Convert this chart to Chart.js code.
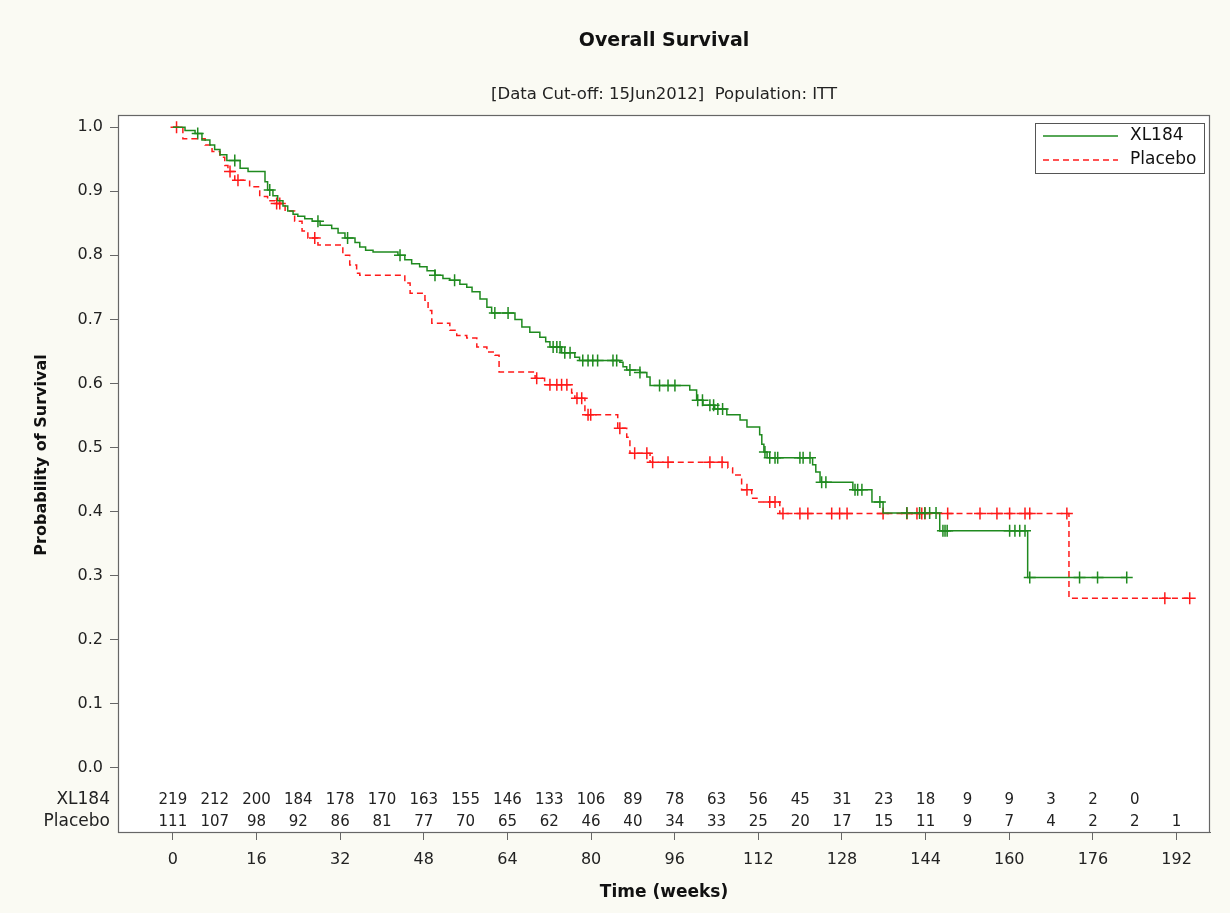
<!DOCTYPE html>
<html>
<head>
<meta charset="utf-8">
<script src="https://cdn.jsdelivr.net/npm/chart.js@4.4.1/dist/chart.umd.min.js"></script>
<style>
  html, body { margin: 0; padding: 0; background: #fafaf3; }
  #wrap { width: 1230px; height: 913px; }
</style>
</head>
<body>
<div id="wrap"><canvas id="km" width="1230" height="913"></canvas></div>
<script>
// Kaplan-Meier steps (weeks, survival probability)
const xlTimes = [0, 2.32, 4.24, 5.56, 7.08, 7.99, 9.01, 10.32, 12.86, 14.38, 17.62, 18.12, 19.14, 20.05, 21.06, 21.97, 22.99, 23.90, 25.22, 26.64,
  28.16, 30.38, 31.60, 32.92, 34.84, 35.75, 36.87, 38.29, 43.05, 44.37, 45.68, 47.20, 48.62, 50.14, 51.66, 52.98, 54.90, 56.22, 57.23, 58.75,
  60.07, 60.98, 65.44, 66.76, 68.28, 70.20, 71.32, 72.13, 74.36, 76.89, 77.80, 85.50, 86.11, 86.82, 89.35, 90.67, 91.28, 98.88, 100.19, 101.41,
  103.64, 105.97, 108.50, 109.82, 112.25, 112.66, 113.06, 113.67, 122.38, 122.99, 123.80, 130.08, 133.73, 135.86, 146.70, 163.52, 182.47];
const xlSurv = [1.0, 0.995, 0.99, 0.98, 0.972, 0.965, 0.957, 0.948, 0.936, 0.931, 0.915, 0.902, 0.893, 0.885, 0.877, 0.869, 0.864, 0.861, 0.857, 0.853,
  0.847, 0.842, 0.835, 0.827, 0.82, 0.813, 0.808, 0.805, 0.80, 0.793, 0.787, 0.782, 0.776, 0.769, 0.764, 0.761, 0.755, 0.750, 0.743, 0.732,
  0.719, 0.71, 0.70, 0.688, 0.68, 0.672, 0.665, 0.657, 0.648, 0.641, 0.636, 0.633, 0.626, 0.621, 0.617, 0.61, 0.597, 0.59, 0.574, 0.566,
  0.56, 0.551, 0.543, 0.532, 0.52, 0.505, 0.493, 0.484, 0.473, 0.462, 0.446, 0.434, 0.415, 0.398, 0.37, 0.297, 0.297];
const xlCensor = [4.75, 11.84, 18.53, 27.75, 33.42, 43.45, 50.14, 53.89, 61.59, 64.12, 72.74, 73.45, 74.06, 74.97, 75.98, 78.41, 79.42, 80.33, 81.25,
  84.19, 84.90, 87.43, 89.35, 93.10, 94.72, 96.04, 100.40, 101.31, 102.73, 103.44, 104.25, 105.16, 113.26, 114.18, 115.19, 115.70, 119.95, 120.56,
  121.88, 124.11, 124.92, 130.49, 131.00, 131.81, 135.25, 140.42, 142.85, 143.86, 144.77, 145.99, 147.31, 147.71, 148.12, 160.07, 161.08,
  162.00, 163.01, 163.92, 173.45, 176.89, 182.47];

const plTimes = [0, 1.91, 6.17, 7.49, 9.01, 9.92, 10.53, 11.84, 14.68, 16.61, 18.12, 19.54, 21.47, 23.29, 24.71, 25.82, 27.75, 32.51, 33.83, 35.15,
  35.75, 44.37, 45.38, 48.22, 48.82, 49.53, 52.98, 54.30, 56.22, 58.14, 60.07, 61.59, 62.40, 69.29, 71.11, 76.28, 76.89, 78.82, 85.10, 86.82,
  87.43, 91.28, 106.17, 107.08, 108.80, 110.73, 111.74, 116.10, 171.42, 194.52];
const plSurv = [1.0, 0.982, 0.972, 0.962, 0.953, 0.94, 0.931, 0.917, 0.907, 0.892, 0.885, 0.881, 0.869, 0.853, 0.838, 0.827, 0.816, 0.80, 0.785, 0.772,
  0.769, 0.757, 0.741, 0.73, 0.714, 0.694, 0.683, 0.675, 0.671, 0.657, 0.649, 0.644, 0.618, 0.608, 0.598, 0.585, 0.577, 0.551, 0.53, 0.516,
  0.491, 0.477, 0.468, 0.457, 0.434, 0.421, 0.415, 0.397, 0.265, 0.265];
const plCensor = [0.70, 10.93, 12.45, 19.85, 20.45, 27.14, 69.60, 72.13, 73.45, 74.36, 75.37, 77.30, 78.21, 79.42, 79.93, 85.50, 88.34, 90.67, 91.78,
  94.72, 102.73, 105.06, 109.82, 114.18, 115.19, 116.71, 119.95, 121.47, 126.03, 127.55, 128.97, 135.86, 140.42, 142.34, 143.26, 143.86,
  148.22, 154.40, 157.64, 160.07, 163.01, 163.92, 171.02, 189.76, 194.52];

// numbers at risk
const riskTimesXL = [0, 8, 16, 24, 32, 40, 48, 56, 64, 72, 80, 88, 96, 104, 112, 120, 128, 136, 144, 152, 160, 168, 176, 184];
const riskXL = [219, 212, 200, 184, 178, 170, 163, 155, 146, 133, 106, 89, 78, 63, 56, 45, 31, 23, 18, 9, 9, 3, 2, 0];
const riskTimesPl = [0, 8, 16, 24, 32, 40, 48, 56, 64, 72, 80, 88, 96, 104, 112, 120, 128, 136, 144, 152, 160, 168, 176, 184, 192];
const riskPl = [111, 107, 98, 92, 86, 81, 77, 70, 65, 62, 46, 40, 34, 33, 25, 20, 17, 15, 11, 9, 7, 4, 2, 2, 1];

const xTicks = [0, 16, 32, 48, 64, 80, 96, 112, 128, 144, 160, 176, 192];
const yTicks = [0, 0.1, 0.2, 0.3, 0.4, 0.5, 0.6, 0.7, 0.8, 0.9, 1.0];

const GREEN = '#1f8a1f';
const RED = '#ff1a1a';
const FONT = '"DejaVu Sans", sans-serif';

// survival value at time t from the step arrays
function survAt(times, surv, t) {
  let v = surv[0];
  for (let i = 0; i < times.length; i++) {
    if (times[i] <= t) v = surv[i];
  }
  return v;
}

const xlLine = xlTimes.map((t, i) => ({ x: t, y: xlSurv[i] }));
const plLine = plTimes.map((t, i) => ({ x: t, y: plSurv[i] }));
const xlMarks = xlCensor.map(t => ({ x: t, y: survAt(xlTimes, xlSurv, t) }));
const plMarks = plCensor.map(t => ({ x: t, y: survAt(plTimes, plSurv, t) }));

const decor = {
  id: 'decor',
  beforeDraw(chart) {
    const { ctx, chartArea: a } = chart;
    ctx.save();
    ctx.fillStyle = '#fafaf3';
    ctx.fillRect(0, 0, chart.width, chart.height);
    ctx.fillStyle = '#ffffff';
    ctx.fillRect(a.left, a.top, a.right - a.left, a.bottom - a.top);
    ctx.restore();
  },
  afterDraw(chart) {
    const { ctx, chartArea: a } = chart;
    const xs = chart.scales.x, ys = chart.scales.y;
    ctx.save();
    // plot frame
    ctx.strokeStyle = '#666';
    ctx.lineWidth = 1.2;
    ctx.strokeRect(a.left + 0.5, a.top + 0.5, a.right - a.left - 1, a.bottom - a.top);

    ctx.fillStyle = '#111';
    ctx.textAlign = 'center';
    ctx.textBaseline = 'middle';
    const midX = (a.left + a.right) / 2;
    ctx.font = 'bold 19px ' + FONT;
    ctx.fillText('Overall Survival', midX, 41);
    ctx.font = '16.5px ' + FONT;
    ctx.fillStyle = '#222';
    ctx.fillText('[Data Cut-off: 15Jun2012]  Population: ITT', midX, 95);

    ctx.fillStyle = '#111';
    ctx.font = 'bold 17px ' + FONT;
    ctx.fillText('Time (weeks)', midX, 893);
    ctx.save();
    ctx.translate(42, 455);
    ctx.rotate(-Math.PI / 2);
    ctx.font = 'bold 16px ' + FONT;
    ctx.fillText('Probability of Survival', 0, 0);
    ctx.restore();

    // numbers at risk
    ctx.font = '15px ' + FONT;
    ctx.fillStyle = '#222';
    const yXL = ys.getPixelForValue(-0.05);
    const yPl = ys.getPixelForValue(-0.084);
    riskXL.forEach((n, i) => ctx.fillText(String(n), xs.getPixelForValue(riskTimesXL[i]), yXL));
    riskPl.forEach((n, i) => ctx.fillText(String(n), xs.getPixelForValue(riskTimesPl[i]), yPl));
    ctx.textAlign = 'right';
    ctx.font = '17px ' + FONT;
    ctx.fillText('XL184', a.left - 8, yXL);
    ctx.fillText('Placebo', a.left - 8, yPl);

    // legend
    ctx.strokeStyle = '#555';
    ctx.lineWidth = 1;
    ctx.strokeRect(1035.5, 123.5, 169, 50);
    ctx.lineWidth = 1.5;
    ctx.strokeStyle = GREEN;
    ctx.beginPath(); ctx.moveTo(1043, 136); ctx.lineTo(1118, 136); ctx.stroke();
    ctx.strokeStyle = RED;
    ctx.setLineDash([6, 4]);
    ctx.beginPath(); ctx.moveTo(1043, 160); ctx.lineTo(1118, 160); ctx.stroke();
    ctx.setLineDash([]);
    ctx.textAlign = 'left';
    ctx.font = '17px ' + FONT;
    ctx.fillStyle = '#111';
    ctx.fillText('XL184', 1130, 136);
    ctx.fillText('Placebo', 1130, 160);
    ctx.restore();
  }
};

new Chart(document.getElementById('km'), {
  type: 'line',
  data: {
    datasets: [
      { label: 'XL184', data: xlLine, borderColor: GREEN, borderWidth: 1.5, stepped: true, pointRadius: 0, fill: false },
      { label: 'Placebo', data: plLine, borderColor: RED, borderWidth: 1.5, borderDash: [6, 4], stepped: true, pointRadius: 0, fill: false },
      { label: 'XL184 censored', data: xlMarks, showLine: false, pointStyle: 'cross', pointRadius: 6, borderColor: GREEN, borderWidth: 1.5 },
      { label: 'Placebo censored', data: plMarks, showLine: false, pointStyle: 'cross', pointRadius: 6, borderColor: RED, borderWidth: 1.5 }
    ]
  },
  options: {
    responsive: false,
    animation: false,
    layout: { padding: { top: 115, right: 20, left: 0, bottom: 0 } },
    scales: {
      x: {
        type: 'linear',
        min: -10.5,
        max: 198.4,
        afterBuildTicks: s => { s.ticks = xTicks.map(v => ({ value: v })); },
        afterFit: s => { s.height = 81; },
        ticks: { font: { family: FONT, size: 16 }, color: '#222', padding: 10, maxRotation: 0, autoSkip: false },
        grid: { drawOnChartArea: false, drawTicks: true, tickLength: 8, color: '#666' },
        border: { display: true, color: '#666' }
      },
      y: {
        type: 'linear',
        min: -0.1,
        max: 1.019,
        afterBuildTicks: s => { s.ticks = yTicks.map(v => ({ value: v })); },
        afterFit: s => { s.width = 118; },
        ticks: { font: { family: FONT, size: 16 }, color: '#222', padding: 7, callback: v => v.toFixed(1) },
        grid: { drawOnChartArea: false, drawTicks: true, tickLength: 8, color: '#666' },
        border: { display: true, color: '#666' }
      }
    },
    plugins: {
      legend: { display: false },
      tooltip: { enabled: false }
    }
  },
  plugins: [decor]
});
</script>
</body>
</html>
